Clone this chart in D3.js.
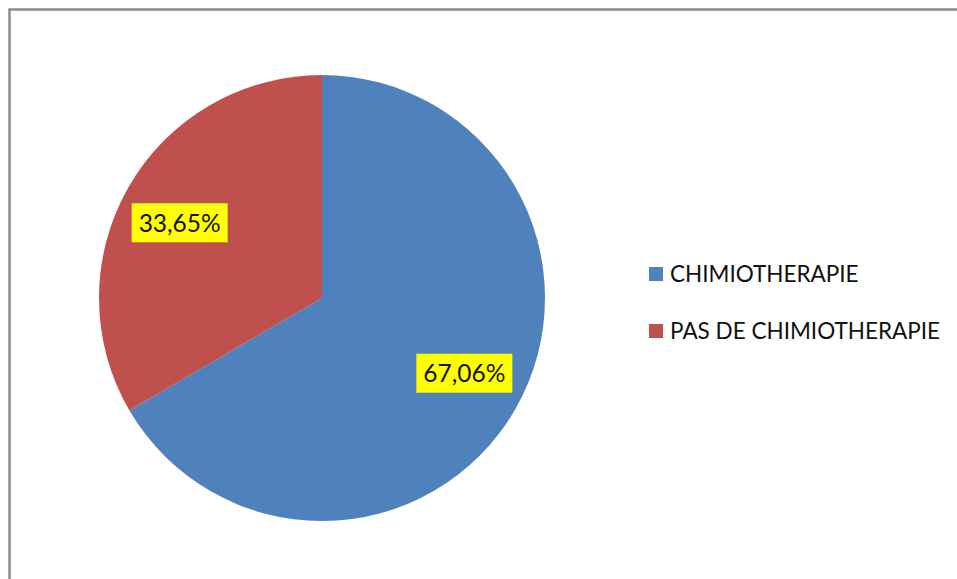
<!DOCTYPE html>
<html><head><meta charset="utf-8">
<script src="https://cdn.jsdelivr.net/npm/d3@7"></script>
<style>html,body{margin:0;padding:0;background:#fff;}svg{display:block;}</style>
</head><body>
<svg id="c" width="957" height="579"></svg>
<script>
const categories = ["CHIMIOTHERAPIE", "PAS DE CHIMIOTHERAPIE"];
const values = [67.06, 33.65];
const labels = ["67,06%", "33,65%"];
const colors = ["#4F81BD", "#C0504D"];

const svg = d3.select("#c");
const W = 957, H = 579;
svg.append("rect").attr("x",0).attr("y",0).attr("width",W).attr("height",H).attr("fill","#fff");
// frame
svg.append("rect").attr("x",9.5).attr("y",9.5).attr("width",W+20).attr("height",H+20)
  .attr("fill","none").attr("stroke","#8c8c8c").attr("stroke-width",2.5);

const cx = 322, cy = 298, R = 223;
const pie = d3.pie().sort(null).value(d=>d)(values);
const arc = d3.arc().innerRadius(0).outerRadius(R);
const g = svg.append("g").attr("transform",`translate(${cx},${cy})`);
g.selectAll("path").data(pie).enter().append("path")
  .attr("d",arc).attr("fill",(d,i)=>colors[i]);

const font = "Lato, 'Open Sans', sans-serif";
const labelArc = d3.arc().innerRadius(161).outerRadius(161);
pie.forEach((d,i)=>{
  const shifted = {startAngle:d.startAngle-0.035, endAngle:d.endAngle-0.035};
  const [x,y] = labelArc.centroid(shifted);
  const lg = g.append("g").attr("transform",`translate(${x},${y})`);
  lg.append("rect").attr("x",-48).attr("y",-19.5).attr("width",96).attr("height",39).attr("fill","#FFFF00");
  lg.append("text").attr("text-anchor","middle").attr("dy","0.36em")
    .attr("font-family",font).attr("font-size",24.5).attr("fill","#111").text(labels[i]);
});

// legend
const leg = svg.append("g").attr("transform","translate(649,274)");
categories.forEach((c,i)=>{
  const r = leg.append("g").attr("transform",`translate(0,${i*57})`);
  r.append("rect").attr("x",0).attr("y",-7).attr("width",14).attr("height",14).attr("fill",colors[i]);
  r.append("text").attr("x",21).attr("y",0).attr("dy","0.36em")
    .attr("font-family",font).attr("font-size",22.5).attr("fill","#111").text(c);
});
</script>
</body></html>
